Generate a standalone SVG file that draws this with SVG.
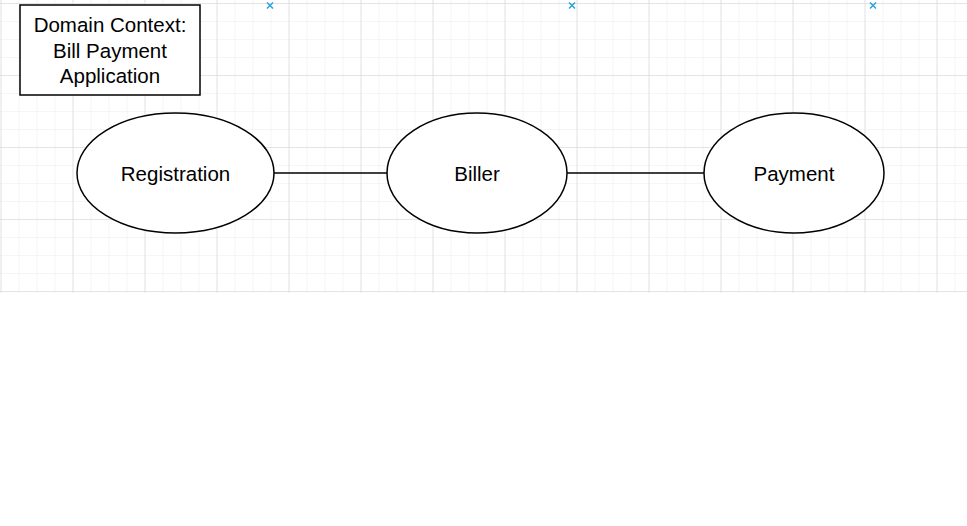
<svg xmlns="http://www.w3.org/2000/svg" width="967" height="526" viewBox="0 0 967 526">
<defs>
<pattern id="minor" x="0.5" y="3" width="18" height="18" patternUnits="userSpaceOnUse">
<path d="M0 0V18M0 0H18" fill="none" stroke="#ececec" stroke-width="1"/>
</pattern>
<pattern id="major" x="0.5" y="3" width="72" height="72" patternUnits="userSpaceOnUse">
<path d="M0 0V72M0 0H72" fill="none" stroke="#d4d4d4" stroke-width="1"/>
</pattern>
</defs>
<style>
.node{fill:#ffffff;stroke:#000000;stroke-width:1.5}
.lbl{font-family:"Liberation Sans",Arial,sans-serif;font-size:20.5px;fill:#000000;text-anchor:middle}
.edge{stroke:#000000;stroke-width:1.5;fill:none}
.mark{stroke:#29a3dd;stroke-width:1.5;fill:none}
</style>
<rect width="967" height="526" fill="#ffffff"/>
<rect x="0" y="0" width="967" height="293" fill="url(#minor)"/>
<rect x="0" y="0" width="967" height="293" fill="url(#major)"/>
<g id="marks">
<path class="mark" d="M267 2.5L273 8.5M273 2.5L267 8.5"/>
<path class="mark" d="M569 2.5L575 8.5M575 2.5L569 8.5"/>
<path class="mark" d="M870 2.5L876 8.5M876 2.5L870 8.5"/>
</g>
<g id="connectors">
<line class="edge" x1="274" y1="173" x2="387" y2="173"/>
<line class="edge" x1="567" y1="173" x2="704" y2="173"/>
</g>
<g id="title">
<rect class="node" x="20" y="5" width="180" height="90"/>
<text class="lbl" x="110" y="32">Domain Context:</text>
<text class="lbl" x="110" y="58">Bill Payment</text>
<text class="lbl" x="110" y="83">Application</text>
</g>
<g id="registration">
<ellipse class="node" cx="175.5" cy="173" rx="98.5" ry="60"/>
<text class="lbl" x="175.5" y="181">Registration</text>
</g>
<g id="biller">
<ellipse class="node" cx="477" cy="173" rx="90" ry="60"/>
<text class="lbl" x="477" y="181">Biller</text>
</g>
<g id="payment">
<ellipse class="node" cx="794" cy="173" rx="90" ry="60"/>
<text class="lbl" x="794" y="181">Payment</text>
</g>
</svg>
